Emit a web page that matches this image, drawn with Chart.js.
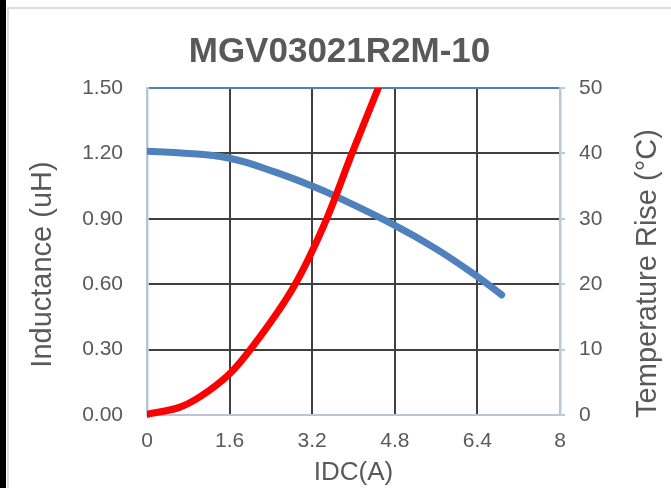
<!DOCTYPE html>
<html>
<head>
<meta charset="utf-8">
<script src="https://cdn.jsdelivr.net/npm/chart.js@4.4.0/dist/chart.umd.min.js"></script>
<style>
  html, body { margin: 0; padding: 0; background: #fff; }
  body { width: 671px; height: 488px; position: relative; overflow: hidden; }
  #strip { position: absolute; left: 0; top: 0; width: 6px; height: 488px; background: #000; }
  #frame { position: absolute; left: 7px; top: 7px; width: 700px; height: 520px; border: 2px solid #dcdcdc; }
  #chart { position: absolute; left: 0; top: 0; }
</style>
</head>
<body>
<div id="strip"></div>
<div id="frame"></div>
<canvas id="chart" width="671" height="488"></canvas>
<script>
// chart data
const titleText = 'MGV03021R2M-10';
const idcL = [0, 0.6, 1.6, 2.5, 3.2, 3.7, 4.8, 5.6, 6.4, 6.87];
const inductance = [1.21, 1.203, 1.178, 1.113, 1.05, 0.998, 0.87, 0.762, 0.635, 0.551];
const idcT = [0, 0.64, 1.03, 1.6, 2.0, 2.87, 3.48, 3.97, 4.48, 4.7];
const tempRise = [0.1, 1.2, 2.8, 6.3, 10, 20, 30, 40, 50, 54.5];
const xTicks = [0, 1.6, 3.2, 4.8, 6.4, 8];
const yTicks = [0, 0.3, 0.6, 0.9, 1.2, 1.5];
const y2Ticks = [0, 10, 20, 30, 40, 50];

const textColor = '#595959';
const gridColor = '#404040';
const axisColor = '#bac6d6';
const topColor = '#4f81bd';
const fontFamily = '"Liberation Sans", Arial, sans-serif';

function toPoints(xs, ys) {
  return xs.map((x, i) => ({ x: x, y: ys[i] }));
}

// force the exact tick values used in the reference
function fixTicks(values) {
  return scale => { scale.ticks = values.map(v => ({ value: v })); };
}

// both vertical axis titles read bottom-to-top (Chart.js turns the right one the other way)
const sideTitles = {
  id: 'sideTitles',
  afterDraw(chart, args, opts) {
    const ctx = chart.ctx;
    const mid = (chart.chartArea.top + chart.chartArea.bottom) / 2;
    ctx.save();
    ctx.fillStyle = textColor;
    ctx.font = opts.size + 'px ' + fontFamily;
    ctx.textAlign = 'center';
    ctx.textBaseline = 'middle';
    opts.items.forEach(item => {
      const s = chart.scales[item.scale];
      const x = item.fromLeft != null ? s.left + item.fromLeft : s.right - item.fromRight;
      ctx.save();
      ctx.translate(x, mid + item.shift);
      ctx.rotate(-Math.PI / 2);
      ctx.fillText(item.text, 0, 0);
      ctx.restore();
    });
    ctx.restore();
  }
};

new Chart(document.getElementById('chart'), {
  type: 'line',
  data: {
    datasets: [
      {
        label: 'Inductance',
        data: toPoints(idcL, inductance),
        yAxisID: 'y',
        borderColor: '#4f81bd',
        borderWidth: 7,
        borderCapStyle: 'round',
        pointRadius: 0,
        tension: 0.4,
        order: 1,
        clip: { left: 0, top: 0, right: 0, bottom: 0 }
      },
      {
        label: 'Temperature Rise',
        data: toPoints(idcT, tempRise),
        yAxisID: 'y2',
        borderColor: '#ff0000',
        borderWidth: 7,
        borderCapStyle: 'round',
        pointRadius: 0,
        cubicInterpolationMode: 'monotone',
        order: 0,
        clip: { left: 0, top: 0, right: 0, bottom: 5 }
      }
    ]
  },
  plugins: [sideTitles],
  options: {
    responsive: false,
    animation: false,
    layout: { padding: { left: 8 } },
    plugins: {
      legend: { display: false },
      tooltip: { enabled: false },
      title: {
        display: true,
        text: titleText,
        color: textColor,
        font: { family: fontFamily, size: 35, weight: 'bold' },
        padding: { top: 31, bottom: 15 }
      },
      sideTitles: {
        size: 29,
        items: [
          { scale: 'y', text: 'Inductance (uH)', fromLeft: 35, shift: 13 },
          { scale: 'y2', text: 'Temperature Rise (°C)', fromRight: 23, shift: 22 }
        ]
      }
    },
    scales: {
      x: {
        type: 'linear',
        min: 0,
        max: 8,
        afterBuildTicks: fixTicks(xTicks),
        afterFit: s => { s.height = 73; },
        grid: {
          lineWidth: 2,
          drawTicks: false,
          color: ctx => (ctx.tick && (ctx.tick.value === 0 || ctx.tick.value === 8)) ? 'rgba(0,0,0,0)' : gridColor
        },
        border: { color: axisColor, width: 2 },
        ticks: {
          color: textColor,
          font: { family: fontFamily, size: 21 },
          padding: 14,
          maxRotation: 0,
          autoSkip: false,
          callback: v => String(v)
        },
        title: {
          display: true,
          text: 'IDC(A)',
          color: textColor,
          font: { family: fontFamily, size: 26 },
          padding: { top: 0, bottom: 0 }
        }
      },
      y: {
        position: 'left',
        min: 0,
        max: 1.5,
        afterBuildTicks: fixTicks(yTicks),
        afterFit: s => { s.width = 139; },
        grid: {
          lineWidth: 2,
          drawTicks: false,
          color: ctx => {
            if (!ctx.tick) return gridColor;
            if (ctx.tick.value === 1.5) return topColor;
            if (ctx.tick.value === 0) return 'rgba(0,0,0,0)';
            return gridColor;
          }
        },
        border: { color: axisColor, width: 2.5 },
        ticks: {
          color: textColor,
          font: { family: fontFamily, size: 21 },
          padding: 24,
          callback: v => v.toFixed(2)
        },
        title: { display: false }
      },
      y2: {
        position: 'right',
        min: 0,
        max: 50,
        afterBuildTicks: fixTicks(y2Ticks),
        afterFit: s => { s.width = 111; },
        grid: {
          drawOnChartArea: false,
          color: axisColor,
          lineWidth: 2,
          tickLength: 5
        },
        border: { color: axisColor, width: 2.5 },
        ticks: {
          color: textColor,
          font: { family: fontFamily, size: 21 },
          padding: 14,
          callback: v => String(v)
        },
        title: { display: false }
      }
    }
  }
});
</script>
</body>
</html>
